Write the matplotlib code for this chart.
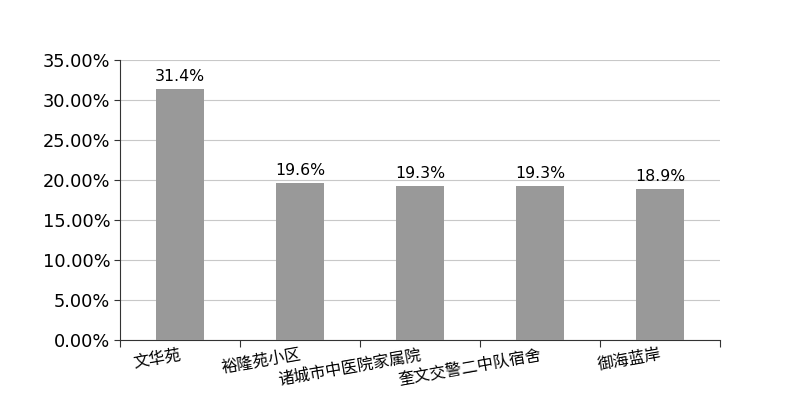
import numpy as np
import matplotlib
matplotlib.use("Agg")
import matplotlib.pyplot as plt
from matplotlib.ticker import FuncFormatter, FixedLocator

plt.rcParams['font.family'] = ['DejaVu Sans', 'Noto Sans CJK SC']

# data
categories = ['文华苑', '裕隆苑小区', '诸城市中医院家属院', '奎文交警二中队宿舍', '御海蓝岸']
values = [31.4, 19.6, 19.3, 19.3, 18.9]
value_labels = ['31.4%', '19.6%', '19.3%', '19.3%', '18.9%']
yticks = [0, 5, 10, 15, 20, 25, 30, 35]

fig = plt.figure(figsize=(8, 4), dpi=100)
ax = fig.add_axes([120 / 800, 60 / 400, 600 / 800, 280 / 400])

x = np.arange(len(categories))
bars = ax.bar(x, values, width=0.4, color='#999999', zorder=3)

for b, lab in zip(bars, value_labels):
    ax.text(b.get_x() + b.get_width() / 2, b.get_height() + 0.6, lab,
            ha='center', va='bottom', fontsize=11.3, color='black')

ax.set_xlim(-0.5, len(categories) - 0.5)
ax.set_ylim(0, 35)
ax.set_yticks(yticks)
ax.yaxis.set_major_formatter(FuncFormatter(lambda v, p: f'{v:.2f}%'))
ax.tick_params(axis='y', labelsize=12.8, length=4, width=0.8, color='#333333', pad=3)
ax.grid(axis='y', color='#c8c8c8', linewidth=0.8, zorder=0)

# category boundary ticks, labels at centres
ax.xaxis.set_major_locator(FixedLocator(np.arange(-0.5, len(categories), 1.0)))
ax.xaxis.set_major_formatter(FuncFormatter(lambda v, p: ''))
ax.tick_params(axis='x', which='major', length=5, width=0.8, color='#333333')
ax.set_xticks(x, minor=True)
ax.set_xticklabels(categories, minor=True, rotation=10, ha='right', va='top',
                   rotation_mode='anchor', fontsize=11.6)
ax.tick_params(axis='x', which='minor', length=0, pad=5)

for s in ['top', 'right']:
    ax.spines[s].set_visible(False)
for s in ['left', 'bottom']:
    ax.spines[s].set_color('#333333')
    ax.spines[s].set_linewidth(0.8)

fig.savefig('out.png', dpi=100)
